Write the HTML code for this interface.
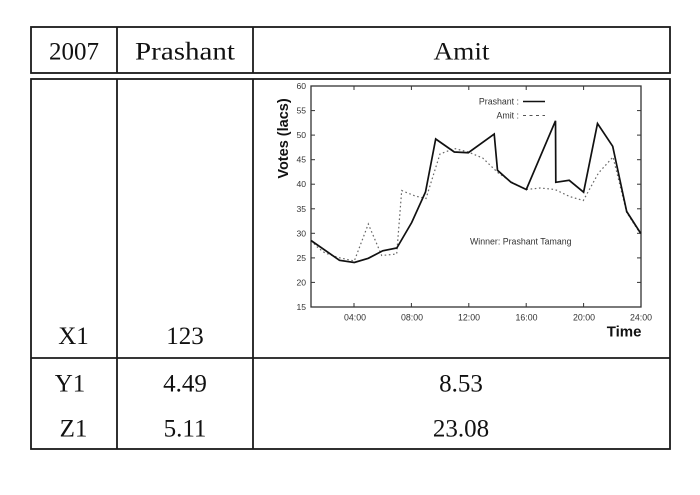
<!DOCTYPE html>
<html>
<head>
<meta charset="utf-8">
<style>
html,body{margin:0;padding:0;background:#fff;}
svg{display:block;}
</style>
</head>
<body>
<svg width="700" height="495" viewBox="0 0 700 495" xmlns="http://www.w3.org/2000/svg">
  <rect width="700" height="495" fill="#fff"/>
  <!-- Table lines -->
  <g stroke="#1a1a1a" stroke-width="1.8" fill="none">
    <rect x="31" y="27" width="639" height="46"/>
    <line x1="117" y1="27" x2="117" y2="73"/>
    <line x1="253" y1="27" x2="253" y2="73"/>
    <rect x="31" y="79" width="639" height="370"/>
    <line x1="117" y1="79" x2="117" y2="449"/>
    <line x1="253" y1="79" x2="253" y2="449"/>
    <line x1="31" y1="358" x2="670" y2="358"/>
  </g>
  <g font-family="'Liberation Serif', serif" font-size="25" fill="#111" text-anchor="middle">
    <text x="74" y="59.5">2007</text>
    <text x="185" y="59.5" textLength="100" lengthAdjust="spacingAndGlyphs">Prashant</text>
    <text x="461.5" y="59.5" textLength="56" lengthAdjust="spacingAndGlyphs">Amit</text>
    <text x="73.5" y="344">X1</text>
    <text x="185" y="344">123</text>
    <text x="70" y="391.5">Y1</text>
    <text x="185" y="391.5">4.49</text>
    <text x="461" y="391.5">8.53</text>
    <text x="73.5" y="436.5">Z1</text>
    <text x="185" y="436.5">5.11</text>
    <text x="461" y="436.5">23.08</text>
  </g>

  <!-- Plot frame -->
  <rect x="311" y="86" width="330" height="221" fill="none" stroke="#333" stroke-width="1.3"/>
  <!-- Y ticks -->
  <g stroke="#333" stroke-width="1">
    <line x1="311" y1="110.6" x2="315" y2="110.6"/><line x1="641" y1="110.6" x2="637" y2="110.6"/>
    <line x1="311" y1="135.1" x2="315" y2="135.1"/><line x1="641" y1="135.1" x2="637" y2="135.1"/>
    <line x1="311" y1="159.7" x2="315" y2="159.7"/><line x1="641" y1="159.7" x2="637" y2="159.7"/>
    <line x1="311" y1="184.2" x2="315" y2="184.2"/><line x1="641" y1="184.2" x2="637" y2="184.2"/>
    <line x1="311" y1="208.8" x2="315" y2="208.8"/><line x1="641" y1="208.8" x2="637" y2="208.8"/>
    <line x1="311" y1="233.3" x2="315" y2="233.3"/><line x1="641" y1="233.3" x2="637" y2="233.3"/>
    <line x1="311" y1="257.9" x2="315" y2="257.9"/><line x1="641" y1="257.9" x2="637" y2="257.9"/>
    <line x1="311" y1="282.4" x2="315" y2="282.4"/><line x1="641" y1="282.4" x2="637" y2="282.4"/>
    <!-- X ticks -->
    <line x1="354" y1="307" x2="354" y2="303"/><line x1="354" y1="86" x2="354" y2="90"/>
    <line x1="411.4" y1="307" x2="411.4" y2="303"/><line x1="411.4" y1="86" x2="411.4" y2="90"/>
    <line x1="468.8" y1="307" x2="468.8" y2="303"/><line x1="468.8" y1="86" x2="468.8" y2="90"/>
    <line x1="526.2" y1="307" x2="526.2" y2="303"/><line x1="526.2" y1="86" x2="526.2" y2="90"/>
    <line x1="583.6" y1="307" x2="583.6" y2="303"/><line x1="583.6" y1="86" x2="583.6" y2="90"/>
  </g>
  <g font-family="'Liberation Sans', sans-serif" font-size="8.6" fill="#333" text-anchor="end">
    <text x="306" y="89">60</text>
    <text x="306" y="113.6">55</text>
    <text x="306" y="138.1">50</text>
    <text x="306" y="162.7">45</text>
    <text x="306" y="187.2">40</text>
    <text x="306" y="211.8">35</text>
    <text x="306" y="236.3">30</text>
    <text x="306" y="260.9">25</text>
    <text x="306" y="285.4">20</text>
    <text x="306" y="310">15</text>
  </g>
  <g font-family="'Liberation Sans', sans-serif" font-size="8.8" fill="#333" text-anchor="middle">
    <text x="355" y="320.5">04:00</text>
    <text x="412" y="320.5">08:00</text>
    <text x="469" y="320.5">12:00</text>
    <text x="526.5" y="320.5">16:00</text>
    <text x="584" y="320.5">20:00</text>
    <text x="641" y="320.5">24:00</text>
  </g>
  <text x="0" y="0" transform="translate(288,138.5) rotate(-90)" font-family="'Liberation Sans', sans-serif" font-weight="bold" font-size="14.5" fill="#111" text-anchor="middle">Votes (lacs)</text>
  <text x="641.5" y="336.5" font-family="'Liberation Sans', sans-serif" font-weight="bold" font-size="15" fill="#111" text-anchor="end">Time</text>
  <text x="470" y="244.5" font-family="'Liberation Sans', sans-serif" font-size="8.8" fill="#333">Winner: Prashant Tamang</text>

  <!-- Legend -->
  <g font-family="'Liberation Sans', sans-serif" font-size="8.8" fill="#333" text-anchor="end">
    <text x="519" y="104.5">Prashant :</text>
    <text x="519" y="118.5">Amit :</text>
  </g>
  <line x1="523" y1="101.5" x2="545" y2="101.5" stroke="#111" stroke-width="1.5"/>
  <line x1="523" y1="115.5" x2="545" y2="115.5" stroke="#555" stroke-width="1" stroke-dasharray="3,3.5"/>

  <!-- Amit (dotted) -->
  <polyline fill="none" stroke="#666" stroke-width="1.2" stroke-dasharray="1.6,2.6"
    points="311,240.5 318.3,248 325,253 338.3,257.5 354.3,261 368.3,224 381.7,255.5 396.7,254 401.7,190.5 415,196 426,198.5 440,154 454.3,148.5 468.3,152 482.7,158 497.7,172.5 512.3,182.5 526.3,189.5 540.3,188 555,189.5 569.5,196.5 583.3,200.5 598.5,173 613,157 626.7,212.5 640.5,234"/>
  <!-- Prashant (solid) -->
  <polyline fill="none" stroke="#111" stroke-width="1.7" stroke-linejoin="miter"
    points="311,240.5 339.5,260.3 354.3,262.5 368.3,258.3 382.7,250.8 396.8,248 411.7,222.5 425.5,192 435.7,139 454.3,152 468.3,152.7 494.2,134 497.5,170.3 511,182.3 526.3,189.5 555.5,120.8 555.8,182.3 569.2,180.3 583.6,192.2 597.5,123.5 612.7,146.3 626.7,211.5 640.8,233.5"/>
</svg>
</body>
</html>
